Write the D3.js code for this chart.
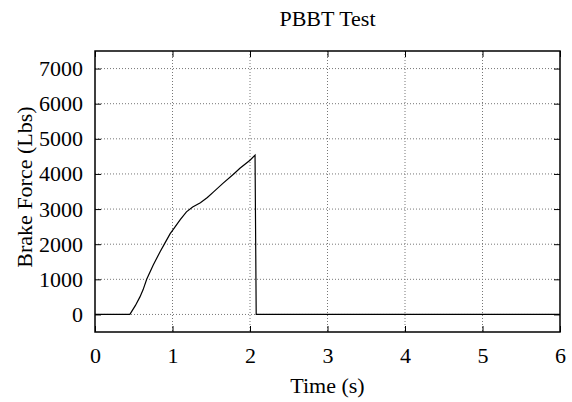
<!DOCTYPE html>
<html>
<head>
<meta charset="utf-8">
<script src="https://cdn.jsdelivr.net/npm/d3@7"></script>
<style>
  body { margin: 0; background: #fff; }
  text { font-family: "Liberation Serif", "Times New Roman", serif; fill: #000; }
</style>
</head>
<body>
<div id="chart"></div>
<script>
// data
var timeS = [0, 0.45, 0.52, 0.58, 0.62, 0.667, 0.75, 0.84, 0.90, 0.97, 1.01, 1.10, 1.18, 1.26, 1.36, 1.45, 1.53, 1.65, 1.79, 1.87, 2.00, 2.065, 2.08, 6.0];
var forceLbs = [0, 0, 250, 500, 700, 1000, 1400, 1786, 2024, 2300, 2420, 2700, 2920, 3060, 3180, 3330, 3490, 3730, 4000, 4160, 4390, 4535, 0, 0];
var xTicks = [0, 1, 2, 3, 4, 5, 6];
var yTicks = [0, 1000, 2000, 3000, 4000, 5000, 6000, 7000];

var svgWidth = 572;
var svgHeight = 402;
var margin = { top: 51, right: 12, bottom: 70, left: 95 };
var width = svgWidth - margin.left - margin.right;
var height = svgHeight - margin.top - margin.bottom;

var svg = d3.select("#chart")
  .append("svg")
  .attr("width", svgWidth)
  .attr("height", svgHeight);

var chartGroup = svg.append("g")
  .attr("transform", `translate(${margin.left}, ${margin.top})`);

var x = d3.scaleLinear().domain([0, 6]).range([0, width]);
var y = d3.scaleLinear().domain([-500, 7500]).range([height, 0]);

// dotted grid
chartGroup.append("g").selectAll("line.gx")
  .data(xTicks.slice(1, -1))
  .enter().append("line")
  .attr("x1", d => x(d)).attr("x2", d => x(d))
  .attr("y1", 0).attr("y2", height)
  .attr("stroke", "#777").attr("stroke-dasharray", "1,2");

chartGroup.append("g").selectAll("line.gy")
  .data(yTicks)
  .enter().append("line")
  .attr("x1", 0).attr("x2", width)
  .attr("y1", d => y(d)).attr("y2", d => y(d))
  .attr("stroke", "#777").attr("stroke-dasharray", "1,2");

// axes with inward ticks, mirrored
var bottomAxis = d3.axisBottom(x).tickValues(xTicks).tickFormat(d3.format("d"))
  .tickSizeInner(-6).tickSizeOuter(0).tickPadding(15);
var leftAxis = d3.axisLeft(y).tickValues(yTicks).tickFormat(d3.format("d"))
  .tickSizeInner(-6).tickSizeOuter(0).tickPadding(12);

var xAxis = chartGroup.append("g")
  .attr("transform", `translate(0, ${height})`)
  .call(bottomAxis);
var yAxis = chartGroup.append("g").call(leftAxis);

chartGroup.append("g")
  .call(d3.axisTop(x).tickValues(xTicks).tickSizeInner(-6).tickSizeOuter(0).tickFormat(""));
chartGroup.append("g")
  .attr("transform", `translate(${width}, 0)`)
  .call(d3.axisRight(y).tickValues(yTicks).tickSizeInner(-6).tickSizeOuter(0).tickFormat(""));

chartGroup.selectAll(".domain").remove();
chartGroup.selectAll(".tick line").attr("stroke", "#000");
xAxis.selectAll("text").style("font-size", "22px").attr("font-family", null);
yAxis.selectAll("text").style("font-size", "22px").attr("font-family", null);

// frame
chartGroup.append("rect")
  .attr("width", width).attr("height", height)
  .attr("fill", "none").attr("stroke", "#000").attr("stroke-width", 1.5);

// data line
var line = d3.line()
  .x((d, i) => x(timeS[i]))
  .y(d => y(d));

chartGroup.append("path")
  .datum(forceLbs)
  .attr("d", line)
  .attr("fill", "none")
  .attr("stroke", "#000")
  .attr("stroke-width", 1.2);

// labels
svg.append("text")
  .attr("x", margin.left + width / 2)
  .attr("y", 26)
  .attr("text-anchor", "middle")
  .style("font-size", "22px")
  .text("PBBT Test");

svg.append("text")
  .attr("x", margin.left + width / 2)
  .attr("y", 393)
  .attr("text-anchor", "middle")
  .style("font-size", "22px")
  .text("Time (s)");

svg.append("text")
  .attr("transform", "rotate(-90)")
  .attr("x", -187)
  .attr("y", 32)
  .attr("text-anchor", "middle")
  .style("font-size", "22px")
  .text("Brake Force (Lbs)");
</script>
</body>
</html>
